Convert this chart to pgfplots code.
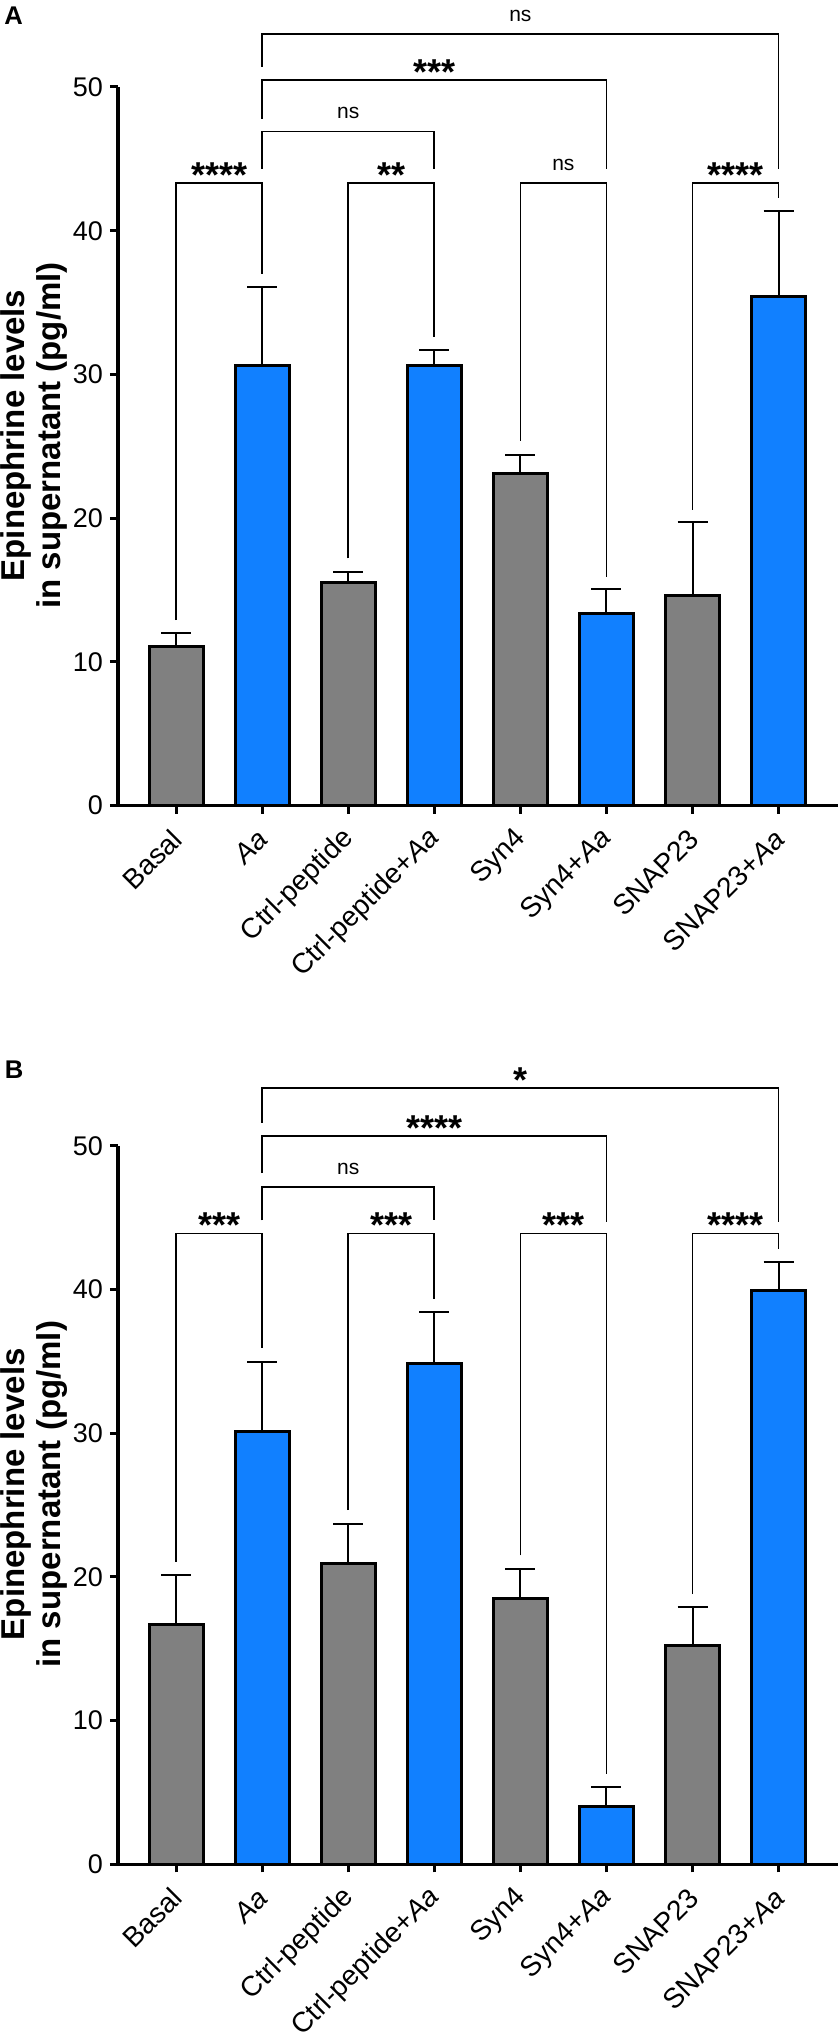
\documentclass[border=0pt]{standalone}
\usepackage{fontspec}
\setmainfont{Liberation Sans}
\usepackage{pgfplots}
\usepackage{pgfplotstable}
\pgfplotsset{compat=1.18}

\definecolor{barblue}{RGB}{17,128,255}
\definecolor{bargray}{RGB}{128,128,128}

% panel A: mean and upper error
\pgfplotstableread{
x  y     err
0  11.1  0.9
2  15.5  0.75
4  23.1  1.3
6  14.6  5.1
}\grayA
\pgfplotstableread{
x  y     err
1  30.6  5.5
3  30.6  1.1
5  13.4  1.65
7  35.4  6.0
}\blueA
% panel B
\pgfplotstableread{
x  y     err
0  16.7  3.45
2  20.9  2.8
4  18.5  2.05
6  15.2  2.67
}\grayB
\pgfplotstableread{
x  y      err
1  30.1   4.87
3  34.85  3.55
5  4.05   1.3
7  39.95  1.95
}\blueB

% bracket: left x, left leg end, right x, right leg end, height
\newcommand{\bracket}[5]{%
  \draw[line width=0.85pt] (axis cs:#1,#2) |- (axis cs:#3,#5) -- (axis cs:#3,#4);}
\newcommand{\stars}[3]{%
  \node[anchor=base, inner sep=0pt, font=\bfseries\fontsize{18}{18}\selectfont]
    at (axis cs:#1,#2) [yshift=-2.3pt] {#3};}
\newcommand{\ns}[2]{%
  \node[anchor=base, inner sep=0pt, font=\fontsize{10.5}{10.5}\selectfont]
    at (axis cs:#1,#2) [yshift=6.3pt] {ns};}

\pgfplotsset{
  panel/.style={
    scale only axis, width=360pt, height=359.3pt,
    xmin=-0.674, xmax=7.69, ymin=0, ymax=50,
    axis x line*=bottom, axis y line*=left,
    axis line style={line width=1.8pt},
    ytick={0,10,...,50}, xtick={0,...,7},
    xticklabels={Basal, \textit{Aa}, Ctrl-peptide, Ctrl-peptide+\textit{Aa},
                 Syn4, Syn4+\textit{Aa}, SNAP23, SNAP23+\textit{Aa}},
    tick align=outside, major tick length=4pt,
    tick style={line width=1.5pt, black},
    /pgf/number format/assume math mode=true,
    yticklabel style={font=\fontsize{13.5}{13.5}\selectfont},
    xticklabel style={font=\fontsize{14}{14}\selectfont,
      xshift=3pt, yshift=-8pt, rotate=45, anchor=east},
    ylabel={Epinephrine levels\\in supernatant (pg/ml)},
    every axis y label/.style={at={(axis description cs:-0.117,0.515)},
      rotate=90, anchor=center, align=center,
      font=\bfseries\fontsize{16.5}{18}\selectfont},
    clip=false,
  },
  bars/.style={ybar, bar width=0.627, bar shift=0pt,
    draw=black, line width=1.5pt, fill=#1},
  errs/.style={forget plot, draw=none, mark=none,
    error bars/.cd, y dir=plus, y explicit,
    error bar style={draw=black, line width=1pt},
    error mark options={rotate=90, draw=black, line width=1pt, mark size=7.5pt}},
}

\begin{document}
\begin{tikzpicture}

% ---------- panel A ----------
\begin{axis}[panel]
  \addplot[bars=bargray] table[x=x, y=y] {\grayA};
  \addplot[bars=barblue] table[x=x, y=y] {\blueA};
  \addplot+[errs] table[x=x, y=y, y error=err] {\grayA};
  \addplot+[errs] table[x=x, y=y, y error=err] {\blueA};
  \bracket{0}{12.9}{1}{37.0}{43.3}
  \bracket{2}{17.2}{3}{32.6}{43.3}
  \bracket{4}{25.4}{5}{15.9}{43.3}
  \bracket{6}{20.6}{7}{42.3}{43.3}
  \bracket{1}{44.3}{3}{44.3}{46.9}
  \bracket{1}{47.8}{5}{44.3}{50.5}
  \bracket{1}{51.4}{7}{44.3}{53.7}
  \stars{0.5}{43.3}{****}
  \stars{2.5}{43.3}{**}
  \ns{4.5}{43.3}
  \stars{6.5}{43.3}{****}
  \ns{2}{46.9}
  \stars{3}{50.5}{***}
  \ns{4}{53.7}
  \node[font=\bfseries\fontsize{12.8}{12.8}\selectfont, inner sep=0pt]
    at (rel axis cs:0,0) [xshift=-52.25pt, yshift=394.8pt] {A};
\end{axis}

% ---------- panel B ----------
\begin{axis}[panel, at={(0,-529.35pt)}]
  \addplot[bars=bargray] table[x=x, y=y] {\grayB};
  \addplot[bars=barblue] table[x=x, y=y] {\blueB};
  \addplot+[errs] table[x=x, y=y, y error=err] {\grayB};
  \addplot+[errs] table[x=x, y=y, y error=err] {\blueB};
  \bracket{0}{21.06}{1}{35.9}{43.9}
  \bracket{2}{24.65}{3}{39.35}{43.9}
  \bracket{4}{21.5}{5}{6.25}{43.9}
  \bracket{6}{18.8}{7}{42.8}{43.9}
  \bracket{1}{44.8}{3}{44.8}{47.15}
  \bracket{1}{48.1}{5}{44.7}{50.67}
  \bracket{1}{51.6}{7}{44.7}{54.0}
  \stars{0.5}{43.9}{***}
  \stars{2.5}{43.9}{***}
  \stars{4.5}{43.9}{***}
  \stars{6.5}{43.9}{****}
  \ns{2}{47.15}
  \stars{3}{50.67}{****}
  \stars{4}{54.0}{*}
  \node[font=\bfseries\fontsize{12.8}{12.8}\selectfont, inner sep=0pt]
    at (rel axis cs:0,0) [xshift=-52pt, yshift=397.4pt] {B};
\end{axis}

\pgfresetboundingbox
\path (-59pt,402.8pt) rectangle (360pt,-614.7pt);
\end{tikzpicture}
\end{document}
